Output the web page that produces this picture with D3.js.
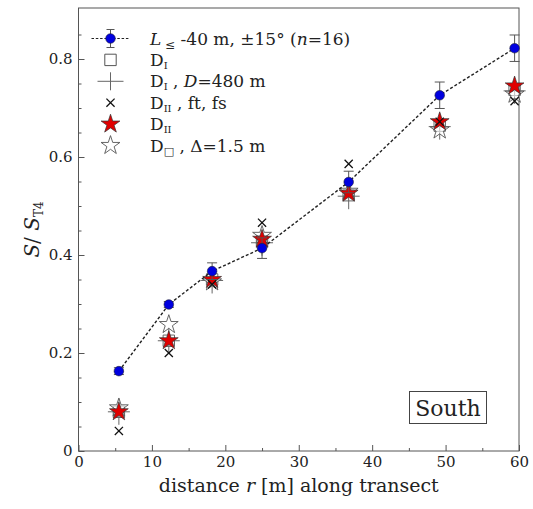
<!DOCTYPE html>
<html><head><meta charset="utf-8">
<script src="https://cdn.jsdelivr.net/npm/d3@7"></script>
<style>body{margin:0;background:#fff}svg{display:block}text{font-family:"DejaVu Serif",serif;fill:#222}</style>
</head><body><svg id="c" width="533" height="509"></svg>
<script>
const distances = [5.5, 12.3, 18.2, 25.0, 36.8, 49.2, 59.4];
const lMeasured = [0.163, 0.299, 0.367, 0.414, 0.549, 0.726, 0.822];
const lMeasuredErr = [0.007, 0.006, 0.017, 0.021, 0.022, 0.027, 0.027];
const dI = [0.080, 0.225, 0.350, 0.428, 0.522, 0.664, 0.737];
const dI480 = [0.080, 0.225, 0.348, 0.425, 0.520, 0.662, 0.735];
const dIIftfs = [0.041, 0.200, 0.340, 0.466, 0.586, 0.672, 0.714];
const dII = [0.080, 0.225, 0.350, 0.432, 0.526, 0.672, 0.745];
const dSq = [0.088, 0.258, 0.345, 0.440, 0.530, 0.655, 0.728];
const xTicks = [0, 10, 20, 30, 40, 50, 60];
const yTicks = [0, 0.2, 0.4, 0.6, 0.8];

const svg = d3.select("#c");
const L = 78.5, R = 519, T = 8, B = 451;
const x = d3.scaleLinear().domain([0, 60]).range([L, R]);
const y = d3.scaleLinear().domain([0, (B - T) / 490]).range([B, T]);

// frame
svg.append("rect").attr("x", L).attr("y", T).attr("width", R - L).attr("height", B - T)
  .attr("fill", "none").attr("stroke", "#555").attr("stroke-width", 1);

// x axis
const xa = svg.append("g").attr("transform", `translate(0,${B})`)
  .call(d3.axisBottom(x).tickValues(xTicks).tickSize(-6).tickPadding(5).tickFormat(d3.format("d")));
xa.select(".domain").remove();
xa.selectAll("line").attr("stroke", "#555");
xa.selectAll("text").style("font-size", "15px").attr("fill", "#222");
const xm = svg.append("g").attr("transform", `translate(0,${B})`)
  .call(d3.axisBottom(x).tickValues(d3.range(5, 60, 10)).tickSize(-3).tickFormat(""));
xm.select(".domain").remove(); xm.selectAll("line").attr("stroke", "#555");

// y axis
const ya = svg.append("g").attr("transform", `translate(${L},0)`)
  .call(d3.axisLeft(y).tickValues(yTicks).tickSize(-6).tickPadding(6).tickFormat(d => d === 0 ? "0" : d3.format(".1f")(d)));
ya.select(".domain").remove();
ya.selectAll("line").attr("stroke", "#555");
ya.selectAll("text").style("font-size", "15px").attr("fill", "#222");
const ym = svg.append("g").attr("transform", `translate(${L},0)`)
  .call(d3.axisLeft(y).tickValues(d3.range(0.1, 0.9, 0.2).concat(d3.range(0.05, 0.9, 0.1))).tickSize(-3).tickFormat(""));
ym.select(".domain").remove(); ym.selectAll("line").attr("stroke", "#555");

// axis titles
const xt = svg.append("text").attr("x", (L + R) / 2).attr("y", 492).attr("text-anchor", "middle").style("font-size", "19px");
xt.append("tspan").text("distance ");
xt.append("tspan").attr("font-style", "italic").text("r");
xt.append("tspan").text(" [m] along transect");
const yt = svg.append("text").attr("transform", `translate(39,${(T + B) / 2}) rotate(-90)`).attr("text-anchor", "middle").style("font-size", "20px");
yt.append("tspan").attr("font-style", "italic").text("S");
yt.append("tspan").text("/ ");
yt.append("tspan").attr("font-style", "italic").text("S");
yt.append("tspan").attr("dy", 4).style("font-size", "12px").text("T4");

const star = d3.symbol().type(d3.symbolStar).size(110)();
const sq = d3.symbol().type(d3.symbolSquare).size(130)();
const xmark = d3.symbol().type(d3.symbolTimes).size(45)();
const g = svg.append("g");

function plus(sel, cx, cy, h, v) {
  sel.append("path").attr("d", `M${cx - h},${cy}H${cx + h}M${cx},${cy - v}V${cy + v}`)
    .attr("stroke", "#666").attr("stroke-width", 1).attr("fill", "none");
}
// plus markers
distances.forEach((d, i) => plus(g, x(d), y(dI480[i]), 11, 13));
// squares
g.selectAll(".sq").data(distances).join("path").attr("d", sq)
  .attr("transform", (d, i) => `translate(${x(d)},${y(dI[i])})`)
  .attr("fill", "none").attr("stroke", "#666").attr("stroke-width", 1);
// open stars
g.selectAll(".os").data(distances).join("path").attr("d", star)
  .attr("transform", (d, i) => `translate(${x(d)},${y(dSq[i])})`)
  .attr("fill", "#fff").attr("fill-opacity", 0.6).attr("stroke", "#555").attr("stroke-width", 0.9);
// red stars
g.selectAll(".rs").data(distances).join("path").attr("d", star)
  .attr("transform", (d, i) => `translate(${x(d)},${y(dII[i])})`)
  .attr("fill", "#e00000").attr("stroke", "#333").attr("stroke-width", 0.7);
// x marks
g.selectAll(".xm").data(distances).join("path").attr("d", xmark)
  .attr("transform", (d, i) => `translate(${x(d)},${y(dIIftfs[i])})`)
  .attr("stroke", "#111").attr("stroke-width", 1.3).attr("fill", "none");

// dashed line
svg.append("path").datum(distances)
  .attr("d", d3.line().x(d => x(d)).y((d, i) => y(lMeasured[i])))
  .attr("fill", "none").attr("stroke", "#222").attr("stroke-width", 1.4).attr("stroke-dasharray", "3,2");
// error bars
distances.forEach((d, i) => {
  const cx = x(d), y1 = y(lMeasured[i] - lMeasuredErr[i]), y2 = y(lMeasured[i] + lMeasuredErr[i]);
  svg.append("path").attr("d", `M${cx},${y1}V${y2}M${cx - 5},${y1}H${cx + 5}M${cx - 5},${y2}H${cx + 5}`)
    .attr("stroke", "#555").attr("stroke-width", 1).attr("fill", "none");
});
svg.selectAll(".bc").data(distances).join("circle")
  .attr("cx", d => x(d)).attr("cy", (d, i) => y(lMeasured[i])).attr("r", 4.8)
  .attr("fill", "#0000e0").attr("stroke", "#223").attr("stroke-width", 0.6);

// legend
const lx = 110.5, ly0 = 38.5, dy = 21.4, tx = 150;
const lg = svg.append("g");
lg.append("path").attr("d", `M${lx - 19},${ly0}H${lx + 18}`).attr("stroke", "#222").attr("stroke-width", 1.2).attr("stroke-dasharray", "2.5,1.8");
lg.append("path").attr("d", `M${lx},${ly0 - 9}V${ly0 + 9}M${lx - 4},${ly0 - 9}H${lx + 4}M${lx - 4},${ly0 + 9}H${lx + 4}`).attr("stroke", "#555").attr("fill", "none");
lg.append("circle").attr("cx", lx).attr("cy", ly0).attr("r", 4.8).attr("fill", "#0000e0").attr("stroke", "#223").attr("stroke-width", 0.6);
lg.append("path").attr("d", sq).attr("transform", `translate(${lx},${ly0 + dy})`).attr("fill", "none").attr("stroke", "#555");
plus(lg, lx, ly0 + 2 * dy, 13, 9);
lg.append("path").attr("d", xmark).attr("transform", `translate(${lx},${ly0 + 3 * dy})`).attr("stroke", "#111").attr("stroke-width", 1.3);
lg.append("path").attr("d", star).attr("transform", `translate(${lx},${ly0 + 4 * dy})`).attr("fill", "#e00000").attr("stroke", "#333").attr("stroke-width", 0.7);
lg.append("path").attr("d", star).attr("transform", `translate(${lx},${ly0 + 5 * dy})`).attr("fill", "#fff").attr("stroke", "#555").attr("stroke-width", 0.9);

function ltext(i) {
  return lg.append("text").attr("x", tx).attr("y", ly0 + i * dy + 6).style("font-size", "17px");
}
let t = ltext(0);
t.append("tspan").attr("font-style", "italic").text("L");
t.append("tspan").attr("dy", 4).style("font-size", "12px").text(" ≤");
t.append("tspan").attr("dy", -4).text(" -40 m, ±15° (");
t.append("tspan").attr("font-style", "italic").text("n");
t.append("tspan").text("=16)");
t = ltext(1); t.append("tspan").text("D"); t.append("tspan").attr("dy", 3).style("font-size", "10px").text("I");
t = ltext(2); t.append("tspan").text("D"); t.append("tspan").attr("dy", 3).style("font-size", "10px").text("I");
t.append("tspan").attr("dy", -3).text(" , "); t.append("tspan").attr("font-style", "italic").text("D"); t.append("tspan").text("=480 m");
t = ltext(3); t.append("tspan").text("D"); t.append("tspan").attr("dy", 3).style("font-size", "10px").text("II");
t.append("tspan").attr("dy", -3).text(" , ft, fs");
t = ltext(4); t.append("tspan").text("D"); t.append("tspan").attr("dy", 3).style("font-size", "10px").text("II");
t = ltext(5); t.append("tspan").text("D"); t.append("tspan").attr("dy", 3).style("font-size", "11px").text("□");
t.append("tspan").attr("dy", -3).text(" , Δ=1.5 m");

// South box
svg.append("rect").attr("x", 409.5).attr("y", 391.5).attr("width", 77).attr("height", 32)
  .attr("fill", "#fff").attr("stroke", "#444").attr("stroke-width", 1);
svg.append("text").attr("x", 448).attr("y", 415.5).attr("text-anchor", "middle").style("font-size", "22px").text("South");
</script></body></html>
